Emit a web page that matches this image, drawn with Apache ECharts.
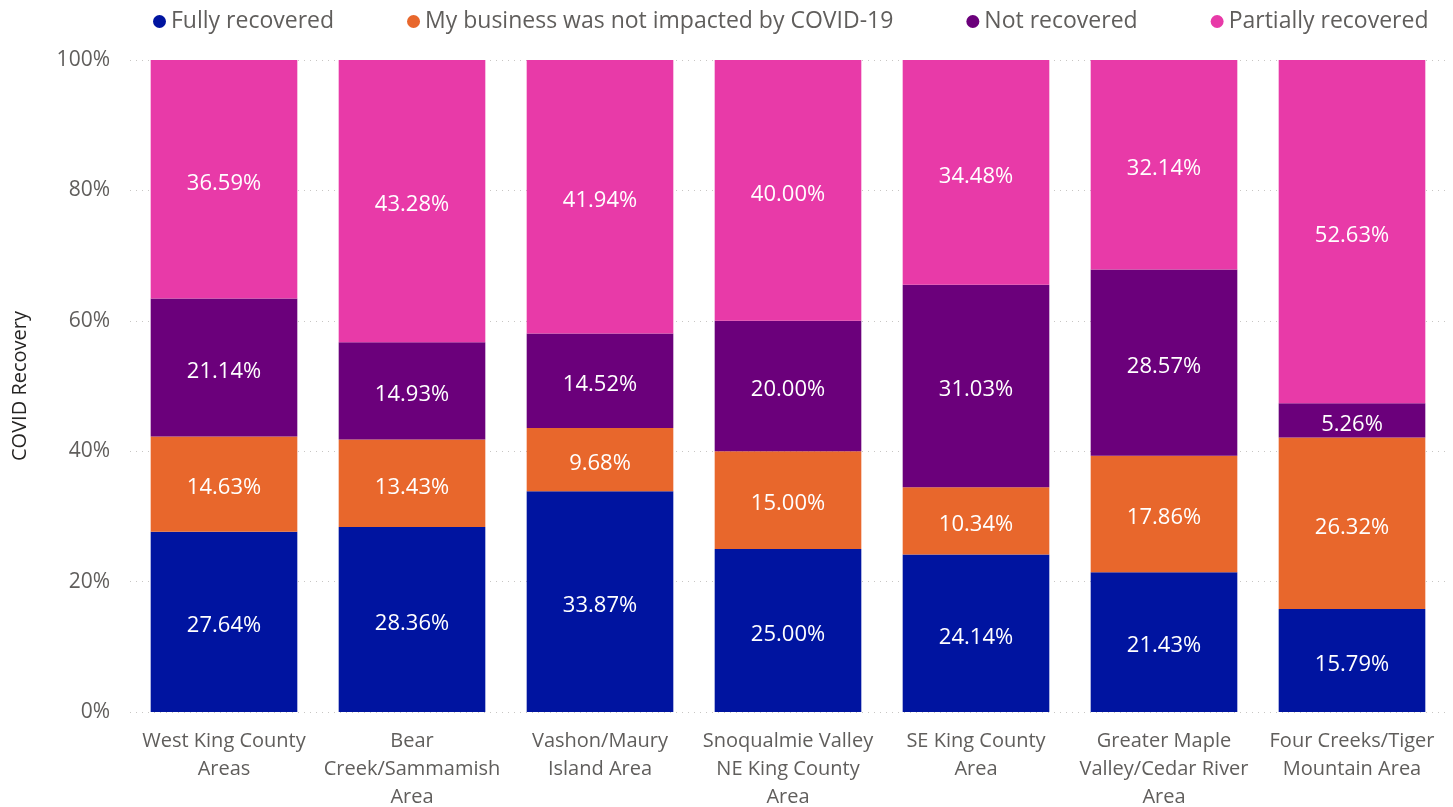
<!DOCTYPE html>
<html>
<head>
<meta charset="utf-8">
<script src="https://cdn.jsdelivr.net/npm/echarts@6/dist/echarts.min.js"></script>
<style>
  html, body {margin: 0; padding: 0; background: #fff;}
  #chart {width: 1453px; height: 807px;}
</style>
</head>
<body>
<div id="chart"></div>
<script>
const categories = [
    'West King County\nAreas',
    'Bear\nCreek/Sammamish\nArea',
    'Vashon/Maury\nIsland Area',
    'Snoqualmie Valley\nNE King County\nArea',
    'SE King County\nArea',
    'Greater Maple\nValley/Cedar River\nArea',
    'Four Creeks/Tiger\nMountain Area'
]
const fullyRecovered = [27.64, 28.36, 33.87, 25.00, 24.14, 21.43, 15.79]
const notImpacted = [14.63, 13.43, 9.68, 15.00, 10.34, 17.86, 26.32]
const notRecovered = [21.14, 14.93, 14.52, 20.00, 31.03, 28.57, 5.26]
const partiallyRecovered = [36.59, 43.28, 41.94, 40.00, 34.48, 32.14, 52.63]
const yTicks = [0, 20, 40, 60, 80, 100]

const font = '"Open Sans", "Noto Sans", sans-serif'

function makeSeries(name, data, color) {
    return {
        name: name,
        type: 'bar',
        stack: 'total',
        barWidth: '78%',
        data: data,
        itemStyle: {color: color},
        label: {
            show: true,
            color: '#fff',
            fontFamily: font,
            fontSize: 22,
            offset: [0, 4],
            formatter: p => p.value.toFixed(2) + '%'
        }
    }
}

const chart = echarts.init(document.getElementById('chart'))
chart.setOption({
    animation: false,
    textStyle: {fontFamily: font},
    legend: {
        top: 5,
        left: 148,
        itemGap: 73,
        icon: 'circle',
        itemWidth: 13,
        itemHeight: 13,
        textStyle: {fontSize: 23, color: '#605E5C', fontFamily: font}
    },
    grid: {left: 130, right: 7, top: 60, bottom: 95, containLabel: false, outerBoundsMode: 'none'},
    xAxis: {
        type: 'category',
        data: categories,
        axisLine: {show: false},
        axisTick: {show: false},
        axisLabel: {
            interval: 0,
            margin: 15,
            fontSize: 20,
            lineHeight: 28,
            color: '#605E5C',
            fontFamily: font
        }
    },
    yAxis: {
        type: 'value',
        min: yTicks[0],
        max: yTicks[yTicks.length - 1],
        interval: 20,
        name: 'COVID Recovery',
        nameLocation: 'middle',
        nameGap: 100,
        nameTextStyle: {fontSize: 20, color: '#252423', fontFamily: font},
        axisLabel: {
            formatter: '{value}%',
            fontSize: 21,
            margin: 20,
            color: '#605E5C',
            fontFamily: font
        },
        splitLine: {lineStyle: {type: [1, 5], color: '#C8C6C4'}}
    },
    series: [
        makeSeries('Fully recovered', fullyRecovered, '#0014A0'),
        makeSeries('My business was not impacted by COVID-19', notImpacted, '#E8672C'),
        makeSeries('Not recovered', notRecovered, '#6B007B'),
        makeSeries('Partially recovered', partiallyRecovered, '#E83AA8')
    ]
})
</script>
</body>
</html>
